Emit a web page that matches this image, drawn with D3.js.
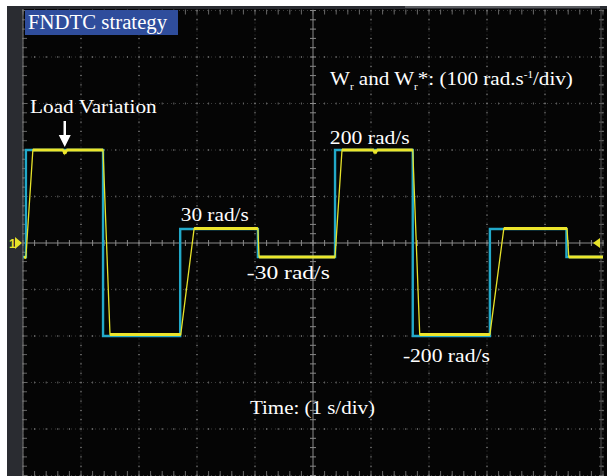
<!DOCTYPE html>
<html>
<head>
<meta charset="utf-8">
<script src="https://cdn.jsdelivr.net/npm/d3@7/dist/d3.min.js"></script>
<style>
  html, body { margin: 0; padding: 0; background: #fff; }
  svg { display: block; }
</style>
</head>
<body>
<svg id="chart" width="607" height="476"></svg>
<script>
// ---------- data ----------
// reference speed W_r* (step changes), time in s, speed in rad/s
const refTimes  = [0.00, 0.05, 1.38, 2.71, 4.05, 5.38, 6.72, 8.05, 9.37, 10.0];
const refLevels = [-30,  200, -200,  30,  -30,  200, -200,  30,  -30,  -30];

const measTimes  = [0.02, 0.05, 0.17, 0.70, 0.72, 0.75, 1.38, 1.50, 2.72, 2.95, 4.05, 4.07,
                    5.38, 5.50, 6.05, 6.07, 6.10, 6.72, 6.84, 8.05, 8.29, 9.38, 9.41, 10.0];
const measValues = [-32, -30,  200,  200,  192,  200,  200, -197, -197,  31,   31,  -30,
                    -30,  200,  200,  193,  200,  200, -197, -197,  31,   31,  -30,  -30];

// graticule
const xDivs = [0,1,2,3,4,5,6,7,8,9,10];
const yDivs = [-500,-400,-300,-200,-100,0,100,200,300,400,500];

// annotations
const levelLabels = [
  {text: "200 rad/s",  t: 5.29, v: 200,  dy: -6,  w: 80},
  {text: "30 rad/s",   t: 2.72, v: 30,   dy: -8,  w: 68},
  {text: "-30 rad/s",  t: 3.86, v: -30,  dy: 22,  w: 83},
  {text: "-200 rad/s", t: 6.55, v: -200, dy: 26,  w: 87}
];

// ---------- layout ----------
const svg = d3.select("#chart");
const W = 607, H = 476;
const plot = {left: 23, right: 603, top: 10.5, bottom: 475.5};

const x = d3.scaleLinear().domain([0, 10]).range([plot.left, plot.right]);
const y = d3.scaleLinear().domain([-500, 500]).range([plot.bottom, plot.top]);

// horizontally fit a text element to a target width (keeps start x)
function fit(sel, width) {
  const node = sel.node();
  const bw = node.getBBox().width;
  const x0 = +sel.attr("x");
  const sx = width / bw;
  sel.attr("transform", `translate(${x0},0) scale(${sx},1) translate(${-x0},0)`);
  return sel;
}

// frame
svg.append("rect").attr("x", 0).attr("y", 0).attr("width", W).attr("height", H).attr("fill", "#fff");
svg.append("rect").attr("x", 7).attr("y", 6).attr("width", W - 7).attr("height", H - 6).attr("fill", "#2a2c31");
svg.append("rect").attr("x", plot.left).attr("y", 9).attr("width", W - plot.left).attr("height", H - 9).attr("fill", "#050505");
svg.append("rect").attr("x", 405).attr("y", 6).attr("width", 195).attr("height", 2).attr("fill", "#5a5c60");

const g = svg.append("g");

// dotted grid lines
xDivs.forEach(d => {
  if (d === 5) return;
  g.append("line").attr("x1", x(d)).attr("x2", x(d)).attr("y1", plot.top).attr("y2", H)
    .attr("stroke", "#3c3c3c").attr("stroke-width", 1).attr("stroke-dasharray", "1,3");
});
yDivs.forEach(d => {
  if (d === 0) return;
  g.append("line").attr("x1", plot.left).attr("x2", plot.right).attr("y1", y(d)).attr("y2", y(d))
    .attr("stroke", "#3c3c3c").attr("stroke-width", 1).attr("stroke-dasharray", "1,3");
});
// minor dots every 1/5 div on grid lines
const xMinor = d3.range(0, 10.001, 0.2);
const yMinor = d3.range(-500, 500.001, 20);
yDivs.forEach(d => {
  if (d === 0) return;
  g.selectAll(null).data(xMinor).enter().append("rect")
    .attr("x", t => x(t) - 0.5).attr("y", y(d) - 1).attr("width", 1).attr("height", 2)
    .attr("fill", "#666");
});
xDivs.forEach(d => {
  if (d === 5) return;
  g.selectAll(null).data(yMinor).enter().append("rect")
    .attr("x", x(d) - 1).attr("y", v => y(v) - 0.5).attr("width", 2).attr("height", 1)
    .attr("fill", "#666");
});

// centre axes
g.append("line").attr("x1", plot.left).attr("x2", plot.right).attr("y1", y(0)).attr("y2", y(0))
  .attr("stroke", "#8a8a8a").attr("stroke-width", 1);
g.append("line").attr("x1", x(5)).attr("x2", x(5)).attr("y1", plot.top).attr("y2", H)
  .attr("stroke", "#8a8a8a").attr("stroke-width", 1);
g.selectAll(null).data(xMinor).enter().append("line")
  .attr("x1", t => x(t)).attr("x2", t => x(t)).attr("y1", y(0) - 3).attr("y2", y(0) + 3)
  .attr("stroke", "#8a8a8a").attr("stroke-width", 1);
g.selectAll(null).data(yMinor).enter().append("line")
  .attr("x1", x(5) - 3).attr("x2", x(5) + 3).attr("y1", v => y(v)).attr("y2", v => y(v))
  .attr("stroke", "#8a8a8a").attr("stroke-width", 1);
// edge ticks
g.selectAll(null).data(xMinor).enter().append("line")
  .attr("x1", t => x(t)).attr("x2", t => x(t)).attr("y1", plot.top).attr("y2", plot.top + 4)
  .attr("stroke", "#666").attr("stroke-width", 1);
g.selectAll(null).data(xMinor).enter().append("line")
  .attr("x1", t => x(t)).attr("x2", t => x(t)).attr("y1", H - 5).attr("y2", H)
  .attr("stroke", "#666").attr("stroke-width", 1);
g.selectAll(null).data(yMinor).enter().append("line")
  .attr("x1", plot.left).attr("x2", plot.left + 4).attr("y1", v => y(v)).attr("y2", v => y(v))
  .attr("stroke", "#666").attr("stroke-width", 1);
g.selectAll(null).data(yMinor).enter().append("line")
  .attr("x1", plot.right - 4).attr("x2", plot.right).attr("y1", v => y(v)).attr("y2", v => y(v))
  .attr("stroke", "#666").attr("stroke-width", 1);
// plot border lines
g.append("line").attr("x1", plot.left).attr("x2", plot.left).attr("y1", 9).attr("y2", H)
  .attr("stroke", "#7a7a7a").attr("stroke-width", 1);
g.append("line").attr("x1", plot.right - 2).attr("x2", plot.right - 2).attr("y1", 9).attr("y2", H)
  .attr("stroke", "#555").attr("stroke-width", 1);

// ---------- traces ----------
const refData = refTimes.map((t, i) => [t, refLevels[i]]);
const measData = measTimes.map((t, i) => [t, measValues[i]]);

const refLine = d3.line().x(d => x(d[0])).y(d => y(d[1])).curve(d3.curveStepAfter);
svg.append("path").datum(refData).attr("d", refLine)
  .attr("fill", "none").attr("stroke", "#22a9c9").attr("stroke-width", 2.4);

const measLine = d3.line().x(d => x(d[0])).y(d => y(d[1]));
svg.append("path").datum(measData).attr("d", measLine)
  .attr("fill", "none").attr("stroke", "#e6e22a").attr("stroke-width", 1.3);
// thicker plateaus
for (let i = 0; i < measData.length - 1; i++) {
  const a = measData[i], b = measData[i + 1];
  if (Math.abs(a[1] - b[1]) < 10) {
    svg.append("line").attr("x1", x(a[0])).attr("x2", x(b[0])).attr("y1", y(a[1])).attr("y2", y(b[1]))
      .attr("stroke", "#ece62c").attr("stroke-width", 3).attr("stroke-linecap", "butt");
  }
}

// channel & trigger markers
svg.append("text").attr("x", 9).attr("y", 248).text("1")
  .attr("fill", "#e6e22a").attr("font-family", "Liberation Sans, Arial, sans-serif")
  .attr("font-size", 12).attr("font-weight", "bold");
svg.append("path").attr("d", `M15,${y(0) - 6}L22,${y(0)}L15,${y(0) + 6}Z`).attr("fill", "#e6e22a");
svg.append("path").attr("d", `M${plot.right - 10},${y(0)}L${plot.right - 3},${y(0) - 5}L${plot.right - 3},${y(0) + 5}Z`).attr("fill", "#e6e22a");

// ---------- texts ----------
const serif = "Liberation Serif, 'DejaVu Serif', serif";

svg.append("rect").attr("x", 25).attr("y", 10).attr("width", 153).attr("height", 25).attr("fill", "#2f4d9c");
fit(svg.append("text").attr("x", 28).attr("y", 29).text("FNDTC strategy")
  .attr("fill", "#fff").attr("font-family", serif).attr("font-size", 20.5), 140);

fit(svg.append("text").attr("x", 30).attr("y", 113).text("Load Variation")
  .attr("fill", "#fff").attr("font-family", serif).attr("font-size", 19.5), 127);
// arrow
const ax = x(0.72);
svg.append("line").attr("x1", ax).attr("x2", ax).attr("y1", 121).attr("y2", 137)
  .attr("stroke", "#fff").attr("stroke-width", 2.5);
svg.append("path").attr("d", `M${ax - 6},135L${ax + 6},135L${ax},147Z`).attr("fill", "#fff");

const wt = svg.append("text").attr("x", 330).attr("y", 85)
  .attr("fill", "#fff").attr("font-family", serif).attr("font-size", 19);
wt.append("tspan").text("W");
wt.append("tspan").text("r").attr("font-size", 10).attr("dy", 5);
wt.append("tspan").text(" and W").attr("dy", -5);
wt.append("tspan").text("r").attr("font-size", 10).attr("dy", 5);
wt.append("tspan").text("*: (100 rad.s").attr("dy", -5);
wt.append("tspan").text("-1").attr("font-size", 10).attr("dy", -7);
wt.append("tspan").text("/div)").attr("dy", 7);
fit(wt, 243);

svg.selectAll(".lvl").data(levelLabels).enter().append("text")
  .attr("class", "lvl")
  .attr("x", d => x(d.t)).attr("y", d => y(d.v) + d.dy).text(d => d.text)
  .attr("fill", "#fff").attr("font-family", serif).attr("font-size", 19.5)
  .each(function(d) { fit(d3.select(this), d.w); });

fit(svg.append("text").attr("x", 250).attr("y", 414).text("Time: (1 s/div)")
  .attr("fill", "#fff").attr("font-family", serif).attr("font-size", 19.5), 125);
</script>
</body>
</html>
